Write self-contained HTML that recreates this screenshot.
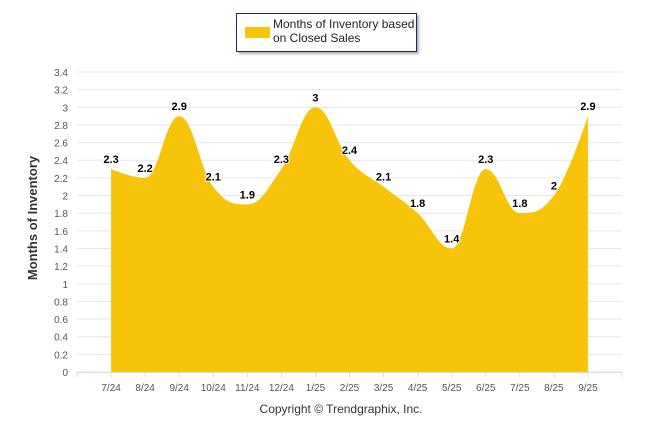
<!DOCTYPE html>
<html><head><meta charset="utf-8"><style>
body{margin:0;background:#fff;font-family:"Liberation Sans",sans-serif}
svg text{font-family:"Liberation Sans",sans-serif}
</style></head><body>
<svg width="646" height="434" viewBox="0 0 646 434">
<defs><filter id="sh" x="-10%" y="-10%" width="130%" height="140%"><feDropShadow dx="2" dy="2" stdDeviation="1" flood-color="#000" flood-opacity="0.3"/></filter></defs>
<g id="grid"></g>
<g id="area"></g>
<g id="axes"></g>
<g id="labels"></g>
<text x="37" y="218" transform="rotate(-90 37 218)" text-anchor="middle" font-size="13" font-weight="bold" fill="#333">Months of Inventory</text>
<text x="341" y="413" text-anchor="middle" font-size="12" fill="#333">Copyright © Trendgraphix, Inc.</text>
<g>
<rect x="236.5" y="13.5" width="180" height="38" fill="#fff" stroke="#1a2a5a" stroke-width="1" filter="url(#sh)"/>
<rect x="245" y="27" width="25" height="11" fill="#f8c40a"/>
<text x="273" y="28" font-size="12" fill="#222"><tspan x="273">Months of Inventory based</tspan><tspan x="273" dy="14">on Closed Sales</tspan></text>
</g>
</svg>
<script>
const categories=["7/24","8/24","9/24","10/24","11/24","12/24","1/25","2/25","3/25","4/25","5/25","6/25","7/25","8/25","9/25"];
const values=[2.3,2.2,2.9,2.1,1.9,2.3,3,2.4,2.1,1.8,1.4,2.3,1.8,2,2.9];
const yTicks=[0,0.2,0.4,0.6,0.8,1,1.2,1.4,1.6,1.8,2,2.2,2.4,2.6,2.8,3,3.2,3.4];
const NS="http://www.w3.org/2000/svg";
const L=77,R=622,T=72,B=372,yMax=3.4;
const step=(R-L)/(categories.length+1);
const x=i=>L+step*(i+1);
const y=v=>B-(v/yMax)*(B-T);
function mk(t,a,p){const e=document.createElementNS(NS,t);for(const k in a)e.setAttribute(k,a[k]);p.appendChild(e);return e;}
const grid=document.getElementById('grid'),axes=document.getElementById('axes'),lab=document.getElementById('labels'),area=document.getElementById('area');
yTicks.forEach(v=>{
 const l=mk('line',{x1:L,x2:R,y1:y(v),y2:y(v),stroke:'#e6e6e6','stroke-width':1},grid);
 
 
 const t=mk('text',{x:68,y:y(v)+4,'text-anchor':'end','font-size':'10',fill:'#555'},axes);
 t.textContent=String(v);
 
 
});
const base=mk('line',{x1:L,x2:R,y1:B+0.5,y2:B+0.5,stroke:'#ddd'},axes);


for(let i=-1;i<=categories.length;i++){
 const tk=mk('line',{x1:x(i),x2:x(i),y1:B,y2:B+5,stroke:'#ddd'},axes);
 
 
}
categories.forEach((c,i)=>{
 const t=mk('text',{x:x(i),y:B+19,'text-anchor':'middle','font-size':'10',fill:'#555'},axes);
 t.textContent=c;
 
 
});
// Highcharts-like spline
const pts=values.map((v,i)=>[x(i),y(v)]);
const sm=1.5,den=sm+1;
function ctrl(i){
 const p=pts[i],a=pts[i-1],n=pts[i+1];
 let lx=(sm*p[0]+a[0])/den,ly=(sm*p[1]+a[1])/den,rx=(sm*p[0]+n[0])/den,ry=(sm*p[1]+n[1])/den;
 let corr=0;
 if(rx!==lx) corr=((ry-ly)*(rx-p[0]))/(rx-lx)+p[1]-ry;
 ly+=corr;ry+=corr;
 if(ly>a[1]&&ly>p[1]){ly=Math.max(a[1],p[1]);ry=2*p[1]-ly;}else if(ly<a[1]&&ly<p[1]){ly=Math.min(a[1],p[1]);ry=2*p[1]-ly;}
 if(ry>n[1]&&ry>p[1]){ry=Math.max(n[1],p[1]);ly=2*p[1]-ry;}else if(ry<n[1]&&ry<p[1]){ry=Math.min(n[1],p[1]);ly=2*p[1]-ry;}
 return {l:[lx,ly],r:[rx,ry]};
}
const C=pts.map((p,i)=>(i>0&&i<pts.length-1)?ctrl(i):{l:p,r:p});
let d=`M${pts[0][0]},${B} L${pts[0][0]},${pts[0][1]}`;
for(let i=1;i<pts.length;i++){
 const c1=C[i-1].r,c2=C[i].l;
 d+=` C${c1[0]},${c1[1]} ${c2[0]},${c2[1]} ${pts[i][0]},${pts[i][1]}`;
}
d+=` L${pts[pts.length-1][0]},${B} Z`;
const ap=mk('path',{d:d,fill:'#f8c40a'},area);


values.forEach((v,i)=>{
 const t=mk('text',{x:x(i),y:y(v)-6,'text-anchor':'middle','font-size':'11','font-weight':'bold',fill:'#000',stroke:'#fff','stroke-width':'2','paint-order':'stroke'},lab);
 t.textContent=String(v);
 
 
});
</script>
</body></html>
